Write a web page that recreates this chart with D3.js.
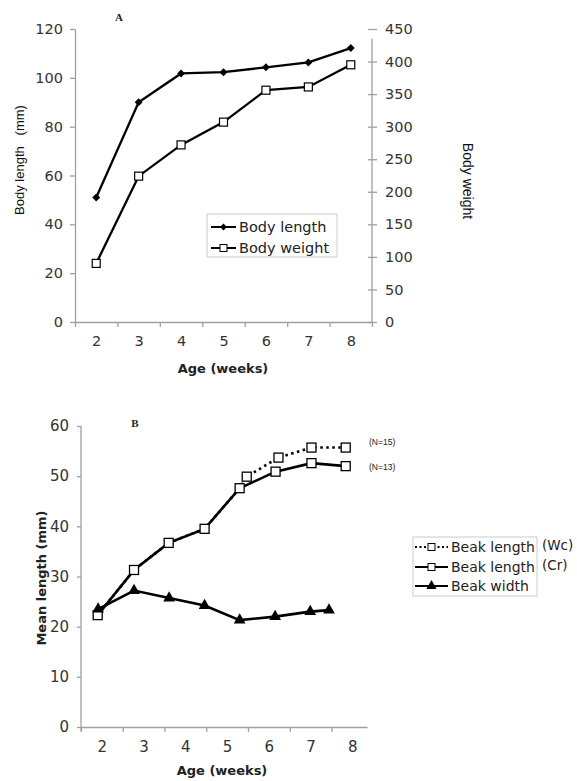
<!DOCTYPE html>
<html><head><meta charset="utf-8">
<script src="https://cdn.jsdelivr.net/npm/d3@7"></script>
<style>body{margin:0;background:#fff}svg{display:block}</style>
</head><body><svg id="c" width="577" height="781"></svg>
<script>
// ---------- Panel A data ----------
const weeksA = [2, 3, 4, 5, 6, 7, 8];
const bodyLength = [51, 90, 101.8, 102.3, 104.3, 106.3, 112.2];
const bodyWeight = [90, 224, 272, 307, 356, 361, 395];
const leftTicksA = [0, 20, 40, 60, 80, 100, 120];
const rightTicksA = [0, 50, 100, 150, 200, 250, 300, 350, 400, 450];

// ---------- Panel B data ----------
const weeksCr = [1.90, 2.77, 3.60, 4.46, 5.30, 6.16, 7.02, 7.84];
const beakLenCr = [22.3, 31.3, 36.7, 39.5, 47.6, 50.9, 52.6, 52.0];
const weeksWc = [1.90, 2.77, 3.60, 4.46, 5.30, 5.47, 6.23, 7.02, 7.84];
const beakLenWc = [22.3, 31.3, 36.7, 39.5, 47.6, 49.9, 53.7, 55.7, 55.7];
const weeksW = [1.91, 2.77, 3.61, 4.46, 5.30, 6.15, 6.99, 7.44];
const beakWidth = [23.5, 27.2, 25.7, 24.2, 21.3, 22.0, 23.0, 23.3];
const yTicksB = [0, 10, 20, 30, 40, 50, 60];
const xTicksB = [2, 3, 4, 5, 6, 7, 8];

const svg = d3.select('#c');
const axisCol = '#a0a0a0', txtCol = '#333';
const sans = 'DejaVu Sans, Verdana, sans-serif';
const intFmt = d3.format('d');

function styleAxis(g, fs) {
  g.select('.domain').attr('stroke', axisCol).attr('stroke-width', 1.3);
  g.selectAll('.tick line').attr('stroke', axisCol).attr('stroke-width', 1.3);
  g.selectAll('.tick text').attr('fill', txtCol).attr('font-family', sans).attr('font-size', fs);
}

// ================= Panel A =================
const xA = d3.scaleLinear().domain([1.5, 8.5]).range([75, 372]);
const yL = d3.scaleLinear().domain([0, 120]).range([322, 29]);
const yR = d3.scaleLinear().domain([0, 450]).range([322, 29]);

let g = svg.append('g').attr('transform', 'translate(75,0)')
  .call(d3.axisLeft(yL).tickValues(leftTicksA).tickFormat(intFmt).tickSize(5).tickPadding(7).tickSizeOuter(0));
styleAxis(g, 14.5);
g = svg.append('g').attr('transform', 'translate(372,0)')
  .call(d3.axisRight(yR).tickValues(rightTicksA).tickFormat(intFmt).tickSize(5).tickPadding(8).tickSizeOuter(0));
styleAxis(g, 14.5);
g.selectAll('.tick line').attr('x1', -4);
g.select('.domain').attr('d', `M0,${yR(0)}V${yR(435)}`);
g = svg.append('g').attr('transform', 'translate(0,322)')
  .call(d3.axisBottom(xA).tickValues(d3.range(1.5, 8.6, 1)).tickFormat('').tickSize(5).tickSizeOuter(0));
styleAxis(g, 14.5);
g = svg.append('g').attr('transform', 'translate(0,322)')
  .call(d3.axisBottom(xA).tickValues(weeksA).tickFormat(intFmt).tickSize(0).tickPadding(14));
styleAxis(g, 14.5);
g.select('.domain').remove();

const lineA = (ys, sc) => d3.line().x((d, i) => xA(weeksA[i])).y(d => sc(d))(ys);
svg.append('path').attr('d', lineA(bodyLength, yL)).attr('fill', 'none').attr('stroke', '#000').attr('stroke-width', 2.3);
svg.append('path').attr('d', lineA(bodyWeight, yR)).attr('fill', 'none').attr('stroke', '#000').attr('stroke-width', 2.3);
svg.selectAll('.dia').data(bodyLength).join('path')
  .attr('d', d3.symbol(d3.symbolDiamond2, 40)())
  .attr('transform', (d, i) => `translate(${xA(weeksA[i])},${yL(d)})`).attr('fill', '#000');
svg.selectAll('.sqA').data(bodyWeight).join('rect')
  .attr('x', (d, i) => xA(weeksA[i]) - 4).attr('y', d => yR(d) - 4)
  .attr('width', 8).attr('height', 8).attr('fill', '#fff').attr('stroke', '#000').attr('stroke-width', 1.2);

svg.append('text').text('A').attr('x', 119).attr('y', 21).attr('text-anchor', 'middle')
  .attr('font-family', 'Liberation Serif, serif').attr('font-weight', 'bold').attr('font-size', 11).attr('fill', '#222');
svg.append('text').text('Body length\u00a0\u00a0\u00a0(mm)').attr('transform', 'translate(24,160) rotate(-90)')
  .attr('text-anchor', 'middle').attr('font-family', 'Liberation Sans, Arial, sans-serif').attr('font-size', 13).attr('fill', '#111');
svg.append('text').text('Body weight').attr('transform', 'translate(463,181) rotate(90)')
  .attr('text-anchor', 'middle').attr('font-family', 'Liberation Sans, Arial, sans-serif').attr('font-size', 14).attr('fill', '#111');
svg.append('text').text('Age (weeks)').attr('x', 223).attr('y', 373).attr('text-anchor', 'middle')
  .attr('font-family', sans).attr('font-weight', 'bold').attr('font-size', 13).attr('fill', '#222');

// legend A
const legA = svg.append('g');
legA.append('rect').attr('x', 207).attr('y', 214).attr('width', 130).attr('height', 43)
  .attr('fill', '#fff').attr('stroke', '#ccc').attr('stroke-width', 1);
[[227, 'Body length', 'dia'], [248, 'Body weight', 'sq']].forEach(([y, t, m]) => {
  legA.append('line').attr('x1', 211).attr('x2', 236).attr('y1', y).attr('y2', y).attr('stroke', '#000').attr('stroke-width', 2);
  if (m === 'dia') legA.append('path').attr('d', d3.symbol(d3.symbolDiamond2, 30)()).attr('transform', `translate(223.5,${y})`);
  else legA.append('rect').attr('x', 220).attr('y', y - 3.5).attr('width', 7).attr('height', 7).attr('fill', '#fff').attr('stroke', '#000');
  legA.append('text').text(t).attr('x', 239).attr('y', y + 5).attr('font-family', sans).attr('font-size', 14.5).attr('fill', '#222');
});

// ================= Panel B =================
const xB = d3.scaleLinear().domain([1.5, 8.35]).range([81, 367]);
const yB = d3.scaleLinear().domain([0, 60]).range([727, 426]);

g = svg.append('g').attr('transform', 'translate(81,0)')
  .call(d3.axisLeft(yB).tickValues(yTicksB).tickFormat(intFmt).tickSize(4).tickPadding(8).tickSizeOuter(0));
styleAxis(g, 15);
g.select('.domain').attr('d', `M0,${yB(60)}V${yB(0) + 4}`);
g = svg.append('g').attr('transform', `translate(0,${yB(0)})`)
  .call(d3.axisBottom(xB).tickValues(d3.range(1.5, 7.6, 1)).tickFormat('').tickSize(5).tickSizeOuter(0));
styleAxis(g, 15);
g = svg.append('g').attr('transform', `translate(0,${yB(0)})`)
  .call(d3.axisBottom(xB).tickValues(xTicksB).tickFormat(intFmt).tickSize(0).tickPadding(14));
styleAxis(g, 15);
g.select('.domain').remove();

const lineB = (xs, ys) => d3.line().x((d, i) => xB(xs[i])).y(d => yB(d))(ys);
svg.append('path').attr('d', lineB(weeksWc, beakLenWc)).attr('fill', 'none').attr('stroke', '#000')
  .attr('stroke-width', 2.6).attr('stroke-dasharray', '2.5,3.5');
svg.append('path').attr('d', lineB(weeksCr, beakLenCr)).attr('fill', 'none').attr('stroke', '#000').attr('stroke-width', 2.6);
svg.append('path').attr('d', lineB(weeksW, beakWidth)).attr('fill', 'none').attr('stroke', '#000').attr('stroke-width', 2.6);
const sq = (xs, ys) => svg.append('g').selectAll('rect').data(ys).join('rect')
  .attr('x', (d, i) => xB(xs[i]) - 4.5).attr('y', d => yB(d) - 4.5)
  .attr('width', 9).attr('height', 9).attr('fill', '#fff').attr('stroke', '#000').attr('stroke-width', 1.3);
sq(weeksWc.slice(5), beakLenWc.slice(5));
sq(weeksCr, beakLenCr);
svg.append('g').selectAll('path').data(beakWidth).join('path')
  .attr('d', d3.symbol(d3.symbolTriangle, 60)())
  .attr('transform', (d, i) => `translate(${xB(weeksW[i])},${yB(d)})`).attr('fill', '#000');

svg.append('text').text('B').attr('x', 135).attr('y', 427).attr('text-anchor', 'middle')
  .attr('font-family', 'Liberation Serif, serif').attr('font-weight', 'bold').attr('font-size', 11).attr('fill', '#222');
svg.append('text').text('Mean length (mm)').attr('transform', 'translate(46,578) rotate(-90)')
  .attr('text-anchor', 'middle').attr('font-family', sans).attr('font-weight', 'bold').attr('font-size', 13).attr('fill', '#222');
svg.append('text').text('Age (weeks)').attr('x', 222).attr('y', 775).attr('text-anchor', 'middle')
  .attr('font-family', sans).attr('font-weight', 'bold').attr('font-size', 13).attr('fill', '#222');
svg.append('text').text('(N=15)').attr('x', 369).attr('y', 445).attr('font-family', 'Liberation Sans, Arial, sans-serif').attr('font-size', 8.5).attr('fill', '#222');
svg.append('text').text('(N=13)').attr('x', 369).attr('y', 470).attr('font-family', 'Liberation Sans, Arial, sans-serif').attr('font-size', 8.5).attr('fill', '#222');

// legend B
const legB = svg.append('g');
legB.append('rect').attr('x', 413).attr('y', 537).attr('width', 124).attr('height', 59)
  .attr('fill', '#fff').attr('stroke', '#ccc').attr('stroke-width', 1);
[[547, 'Beak length', '(Wc)', 'dot'], [567, 'Beak length', '(Cr)', 'sq'], [586, 'Beak width', '', 'tri']].forEach(([y, t, s, m]) => {
  legB.append('line').attr('x1', 415).attr('x2', 448).attr('y1', y).attr('y2', y).attr('stroke', '#000').attr('stroke-width', 2)
    .attr('stroke-dasharray', m === 'dot' ? '2,2.5' : null);
  if (m === 'tri') legB.append('path').attr('d', d3.symbol(d3.symbolTriangle, 45)()).attr('transform', `translate(431.5,${y})`);
  else legB.append('rect').attr('x', 428).attr('y', y - 3.5).attr('width', 7).attr('height', 7).attr('fill', '#fff').attr('stroke', '#000');
  legB.append('text').text(t).attr('x', 451).attr('y', y + 5).attr('font-family', sans).attr('font-size', 14).attr('fill', '#222');
  if (s) legB.append('text').text(s).attr('x', 542).attr('y', y + 3).attr('font-family', sans).attr('font-size', 13.5).attr('fill', '#222');
});
</script></body></html>
